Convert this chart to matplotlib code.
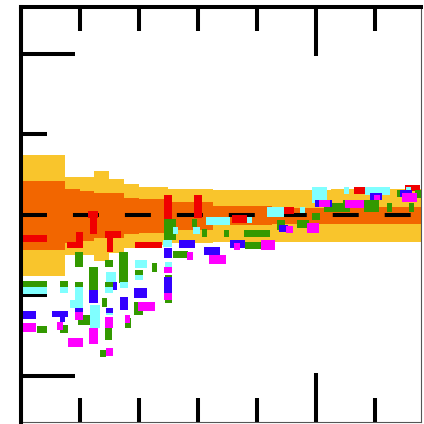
import numpy as np
import matplotlib
matplotlib.use("Agg")
import matplotlib.pyplot as plt

# Uncertainty bands around the reference ratio (step-wise in bins)
band_edges = [0.0, 0.75, 1.0, 1.25, 1.5, 1.75, 2.0, 2.5, 3.25, 4.25, 5.25, 7.0]
band_center = 0.995
outer_halfwidth = [0.376, 0.242, 0.242, 0.280, 0.230, 0.199, 0.180, 0.168, 0.161, 0.161, 0.165]
inner_halfwidth = [0.214, 0.168, 0.155, 0.140, 0.140, 0.112, 0.106, 0.087, 0.059, 0.050, 0.053]

reference_level = 1.0

# Each measurement: (x low, x high, y low, y high)
red_points = [
    (0.017, 0.440, 0.832, 0.876), (0.794, 1.014, 0.795, 0.832), (0.946, 1.064, 0.795, 0.894),
    (1.149, 1.318, 0.981, 1.025), (1.182, 1.301, 0.882, 1.025), (1.436, 1.706, 0.857, 0.901),
    (1.470, 1.571, 0.770, 0.901), (1.943, 2.399, 0.795, 0.832), (2.432, 2.568, 0.969, 1.124),
    (2.939, 3.074, 0.981, 1.124), (3.581, 3.834, 0.950, 1.000), (4.459, 4.628, 1.006, 1.050),
    (5.642, 5.828, 1.130, 1.174), (6.503, 6.757, 1.149, 1.186),
]
green_points = [
    (0.017, 0.440, 0.553, 0.590), (0.287, 0.440, 0.267, 0.311), (0.676, 0.811, 0.553, 0.590),
    (0.676, 0.811, 0.267, 0.317), (0.929, 1.064, 0.677, 0.770), (0.929, 1.064, 0.553, 0.584),
    (0.980, 1.182, 0.317, 0.379), (1.166, 1.318, 0.516, 0.677), (1.385, 1.470, 0.429, 0.484),
    (1.351, 1.453, 0.118, 0.161), (1.436, 1.571, 0.677, 0.720), (1.436, 1.571, 0.553, 0.584),
    (1.436, 1.554, 0.224, 0.304), (1.672, 1.824, 0.578, 0.770), (1.774, 1.875, 0.298, 0.360),
    (1.943, 2.078, 0.627, 0.658), (1.926, 2.078, 0.379, 0.460), (2.230, 2.314, 0.646, 0.702),
    (2.432, 2.635, 0.845, 0.975), (2.449, 2.568, 0.596, 0.627), (2.449, 2.568, 0.453, 0.484),
    (2.584, 2.838, 0.733, 0.776), (2.905, 2.990, 0.925, 0.975), (3.074, 3.159, 0.863, 0.913),
    (3.446, 3.520, 0.863, 0.907), (3.784, 4.223, 0.863, 0.907), (3.801, 4.071, 0.789, 0.832),
    (4.341, 4.476, 0.907, 0.969), (4.679, 4.882, 0.919, 0.969), (4.932, 5.068, 0.969, 1.012),
    (5.135, 5.574, 1.019, 1.075), (5.456, 5.557, 1.062, 1.093), (5.811, 6.064, 1.019, 1.093),
    (6.199, 6.284, 1.019, 1.075), (6.368, 6.453, 1.112, 1.155), (6.571, 6.655, 1.019, 1.075),
    (6.672, 6.791, 1.106, 1.155),
]
cyan_points = [
    (0.017, 0.440, 0.509, 0.553), (0.676, 0.811, 0.516, 0.553), (0.929, 1.064, 0.422, 0.553),
    (0.845, 1.064, 0.422, 0.472), (1.182, 1.351, 0.298, 0.441), (1.453, 1.622, 0.584, 0.646),
    (1.436, 1.571, 0.516, 0.553), (1.453, 1.571, 0.379, 0.410), (1.689, 1.824, 0.547, 0.584),
    (1.943, 2.145, 0.671, 0.720), (1.943, 2.078, 0.596, 0.627), (2.416, 2.568, 0.801, 0.845),
    (2.449, 2.568, 0.677, 0.708), (2.584, 2.669, 0.882, 0.925), (2.922, 3.041, 0.882, 0.925),
    (3.142, 3.547, 0.938, 0.988), (3.834, 3.919, 0.950, 0.988), (4.172, 4.459, 0.988, 1.050),
    (4.730, 4.814, 1.012, 1.050), (4.932, 5.186, 1.075, 1.174), (5.473, 5.557, 1.130, 1.174),
    (5.828, 6.250, 1.124, 1.174), (6.520, 6.605, 1.137, 1.174),
]
blue_points = [
    (0.017, 0.270, 0.354, 0.404), (0.540, 0.811, 0.366, 0.404), (0.676, 0.760, 0.335, 0.366),
    (0.929, 1.064, 0.379, 0.422), (1.166, 1.318, 0.453, 0.534), (1.453, 1.571, 0.391, 0.422),
    (1.571, 1.639, 0.534, 0.584), (1.689, 1.824, 0.410, 0.491), (1.926, 2.145, 0.484, 0.547),
    (2.432, 2.568, 0.733, 0.795), (2.432, 2.568, 0.516, 0.615), (2.686, 2.956, 0.795, 0.845),
    (3.108, 3.378, 0.752, 0.801), (3.547, 3.801, 0.795, 0.845), (4.172, 4.307, 0.801, 0.845),
    (4.375, 4.527, 0.894, 0.938), (4.983, 5.270, 1.050, 1.093), (5.659, 5.811, 1.050, 1.093),
    (5.912, 6.115, 1.093, 1.137), (6.419, 6.622, 1.112, 1.155),
]
magenta_points = [
    (0.017, 0.270, 0.273, 0.329), (0.625, 0.726, 0.286, 0.335), (0.929, 1.064, 0.348, 0.398),
    (0.811, 1.064, 0.180, 0.236), (1.166, 1.318, 0.199, 0.298), (1.436, 1.571, 0.298, 0.366),
    (1.453, 1.571, 0.124, 0.174), (1.774, 1.858, 0.329, 0.379), (1.993, 2.280, 0.404, 0.460),
    (2.432, 2.568, 0.472, 0.516), (2.432, 2.568, 0.640, 0.677), (2.821, 2.922, 0.720, 0.770),
    (3.193, 3.480, 0.696, 0.752), (3.615, 3.716, 0.783, 0.826), (4.071, 4.307, 0.783, 0.845),
    (4.493, 4.611, 0.888, 0.932), (4.848, 5.051, 0.888, 0.950), (5.051, 5.236, 1.050, 1.093),
    (5.490, 5.811, 1.043, 1.093), (5.980, 6.081, 1.093, 1.124), (6.453, 6.706, 1.081, 1.137),
]

series = [
    (red_points, "#f00000"),
    (green_points, "#339900"),
    (cyan_points, "#80ffff"),
    (blue_points, "#3300ff"),
    (magenta_points, "#ff00ff"),
]

fig = plt.figure(figsize=(4.24, 4.24), dpi=100)
ax = fig.add_axes([20.5 / 424, 2 / 424, 400.5 / 424, 415 / 424])

ax.set_xlim(0, 6.77)
ax.set_ylim(-0.286, 2.292)

edges = np.array(band_edges)
outer = np.array(outer_halfwidth)
inner = np.array(inner_halfwidth)
ax.stairs(band_center + outer, edges, baseline=band_center - outer,
          fill=True, color="#f9c52c", linewidth=0, zorder=1)
ax.stairs(band_center + inner, edges, baseline=band_center - inner,
          fill=True, color="#f26600", linewidth=0, zorder=2)

ax.axhline(reference_level, color="black", linewidth=2.9,
           linestyle=(0, (6.45, 6.45)), zorder=3)

for pts, col in series:
    arr = np.array(pts)
    ax.bar(arr[:, 0], arr[:, 3] - arr[:, 2], width=arr[:, 1] - arr[:, 0],
           bottom=arr[:, 2], align="edge", color=col, linewidth=0, zorder=4)

# Frame: heavy top/left, hairline right/bottom
for side in ("top", "left"):
    ax.spines[side].set_linewidth(2.9)
    ax.spines[side].set_zorder(6)
for side in ("right", "bottom"):
    ax.spines[side].set_linewidth(0.8)
    ax.spines[side].set_color("#555555")

ax.set_xticks([0, 5])
ax.set_xticks([1, 2, 3, 4, 6], minor=True)
ax.set_yticks([0, 1, 2])
ax.set_yticks([0.5, 1.5], minor=True)
ax.tick_params(axis="x", which="both", direction="in", top=True, bottom=True,
               labelbottom=False, labeltop=False, width=2.9, color="black")
ax.tick_params(axis="x", which="major", length=35)
ax.tick_params(axis="x", which="minor", length=17.5)
ax.tick_params(axis="y", which="both", direction="in", left=True, right=False,
               labelleft=False, width=2.9, color="black")
ax.tick_params(axis="y", which="major", length=39)
ax.tick_params(axis="y", which="minor", length=19)

fig.savefig("out.png", dpi=100)
